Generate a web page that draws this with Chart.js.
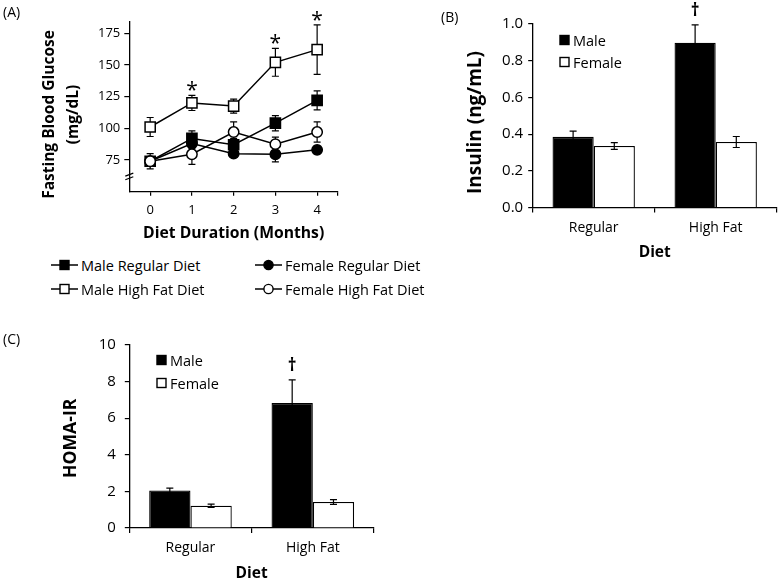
<!DOCTYPE html>
<html>
<head>
<meta charset="utf-8">
<script src="https://cdn.jsdelivr.net/npm/chart.js@4.4.0/dist/chart.umd.min.js"></script>
<style>
body { margin: 0; background: #fff; font-family: "Open Sans", sans-serif; color: #000; }
#wrap { position: relative; width: 782px; height: 583px; overflow: hidden; background: #fff; }
canvas { position: absolute; }
.tag { position: absolute; font-size: 14px; line-height: 1; }
.leg { position: absolute; display: flex; align-items: center; white-space: nowrap; height: 18px; }
.leg svg { margin-right: 3px; }
</style>
</head>
<body>
<div id="wrap">
  <canvas id="chartA" width="400" height="255" style="left:0;top:0;width:400px;height:255px"></canvas>
  <canvas id="chartB" width="382" height="265" style="left:400px;top:0;width:382px;height:265px"></canvas>
  <canvas id="chartC" width="400" height="283" style="left:0;top:300px;width:400px;height:283px"></canvas>
  <div class="tag" style="left:3px;top:5px">(A)</div>
  <div class="tag" style="left:441px;top:10px">(B)</div>
  <div class="tag" style="left:3px;top:332px">(C)</div>
  <div id="legA"></div>
  <div id="legB"></div>
  <div id="legC"></div>
</div>
<script>
// ---- panel A: fasting blood glucose (mg/dL) by month
const months = [0, 1, 2, 3, 4];
const maleRegular = [74, 92, 87, 104, 122];
const maleRegularErr = [3, 6, 5, 6, 7.5];
const maleHighFat = [101, 120, 117.5, 152, 162];
const maleHighFatErr = [7.5, 6, 5.5, 11, 19.5];
const femaleRegular = [74, 88, 80, 79.5, 83];
const femaleRegularErr = [3, 4, 3, 6, 3];
const femaleHighFat = [74, 79.5, 97, 87.5, 97];
const femaleHighFatErr = [6, 8, 8, 5.5, 8];
const starMonths = [1, 3, 4];
const glucoseTicks = [75, 100, 125, 150, 175];

// ---- panels B and C
const diets = ['Regular', 'High Fat'];
const insulinMale = [0.385, 0.898];
const insulinMaleErr = [0.031, 0.097];
const insulinFemale = [0.335, 0.357];
const insulinFemaleErr = [0.018, 0.03];
const homaMale = [2.05, 6.83];
const homaMaleErr = [0.13, 1.26];
const homaFemale = [1.22, 1.42];
const homaFemaleErr = [0.09, 0.13];
const daggerDiet = 'High Fat';

const FONT = '"Open Sans"';
Chart.defaults.font.family = FONT;
Chart.defaults.color = '#000';

const pts = arr => months.map((m, i) => ({x: m, y: arr[i]}));

// error bars, read from dataset.errors
const errorBars = {
    id: 'errorBars',
    beforeDatasetsDraw(chart, args, o) { if (o.behind) drawErrors(chart, o); },
    afterDatasetsDraw(chart, args, o) { if (!o.behind) drawErrors(chart, o); }
};
function drawErrors(chart, o) {
    const ctx = chart.ctx, ys = chart.scales.y;
    ctx.save();
    ctx.strokeStyle = '#000';
    ctx.lineWidth = o.width;
    chart.data.datasets.forEach((ds, i) => {
        chart.getDatasetMeta(i).data.forEach((el, j) => {
            const raw = ds.data[j];
            const v = typeof raw === 'object' ? raw.y : raw;
            const e = ds.errors[j];
            const t = ys.getPixelForValue(v + e), b = ys.getPixelForValue(v - e);
            ctx.beginPath();
            ctx.moveTo(el.x, t); ctx.lineTo(el.x, b);
            ctx.moveTo(el.x - o.cap, t); ctx.lineTo(el.x + o.cap, t);
            ctx.moveTo(el.x - o.cap, b); ctx.lineTo(el.x + o.cap, b);
            ctx.stroke();
        });
    });
    ctx.restore();
}

// significance marks (* and †) above the error bars
const marks = {
    id: 'marks',
    afterDatasetsDraw(chart, args, o) {
        const ctx = chart.ctx, ys = chart.scales.y;
        ctx.save();
        ctx.font = o.font;
        ctx.fillStyle = '#000';
        ctx.textAlign = 'center';
        ctx.textBaseline = 'alphabetic';
        o.items.forEach(it => {
            const ds = chart.data.datasets[it.ds];
            const raw = ds.data[it.index];
            const v = typeof raw === 'object' ? raw.y : raw;
            const el = chart.getDatasetMeta(it.ds).data[it.index];
            ctx.fillText(o.text, el.x, ys.getPixelForValue(v + ds.errors[it.index]) - o.gap);
        });
        ctx.restore();
    }
};

// rotated y title, placed by hand
const sideTitle = {
    id: 'sideTitle',
    afterDraw(chart, args, o) {
        const ctx = chart.ctx;
        ctx.save();
        ctx.font = 'bold ' + o.size + 'px ' + FONT;
        ctx.fillStyle = '#000';
        ctx.textAlign = 'center';
        ctx.textBaseline = 'middle';
        o.lines.forEach((t, i) => {
            ctx.save();
            ctx.translate(o.x[i], o.y);
            ctx.rotate(-Math.PI / 2);
            ctx.fillText(t, 0, 0);
            ctx.restore();
        });
        ctx.restore();
    }
};

// axis break on panel A
const axisBreak = {
    id: 'axisBreak',
    afterDraw(chart, args, o) {
        const ctx = chart.ctx;
        const x = chart.chartArea.left, y = chart.scales.y.getPixelForValue(o.at);
        ctx.save();
        ctx.strokeStyle = '#000';
        ctx.lineWidth = 1.2;
        ctx.beginPath();
        [-1.8, 1.8].forEach(d => {
            ctx.moveTo(x - 4, y + d + 1.5);
            ctx.lineTo(x + 4, y + d - 1.5);
        });
        ctx.stroke();
        ctx.restore();
    }
};

function lineSet(label, arr, err, shape, fill) {
    return {
        label: label,
        data: pts(arr),
        errors: err,
        borderColor: '#000',
        borderWidth: 1.5,
        pointStyle: shape,
        pointRadius: shape == 'rect' ? 7.2 : 5.2,
        pointBorderWidth: 1.5,
        pointBackgroundColor: fill,
        pointBorderColor: '#000',
        tension: 0
    };
}

new Chart(document.getElementById('chartA'), {
    type: 'line',
    data: {
        datasets: [
            lineSet('Male High Fat Diet', maleHighFat, maleHighFatErr, 'rect', '#fff'),
            lineSet('Female High Fat Diet', femaleHighFat, femaleHighFatErr, 'circle', '#fff'),
            lineSet('Male Regular Diet', maleRegular, maleRegularErr, 'rect', '#000'),
            lineSet('Female Regular Diet', femaleRegular, femaleRegularErr, 'circle', '#000')
        ]
    },
    options: {
        responsive: false,
        animation: false,
        events: [],
        layout: {padding: {top: 21.7, right: 62, left: 0, bottom: 0}, autoPadding: false},
        plugins: {
            legend: {display: false},
            tooltip: {enabled: false},
            errorBars: {behind: true, cap: 3.5, width: 1.2},
            marks: {text: '*', font: '21px ' + FONT, gap: -2, items: starMonths.map(m => ({ds: 0, index: months.indexOf(m)}))},
            sideTitle: {lines: ['Fasting Blood Glucose', '(mg/dL)'], x: [50, 74], y: 114.5, size: 15.5},
            axisBreak: {at: 62}
        },
        scales: {
            x: {
                type: 'linear',
                min: -0.5,
                max: 4.5,
                afterBuildTicks: s => { s.ticks = months.concat([4.5]).map(v => ({value: v})); },
                ticks: {padding: 7, font: {size: 13}, callback: v => (v > 4 ? '' : v)},
                grid: {drawOnChartArea: false, tickLength: 4, color: '#000', lineWidth: 1.2},
                border: {color: '#000', width: 1.3},
                title: {display: true, text: 'Diet Duration (Months)', font: {size: 15.7, weight: 'bold'}, padding: {top: 0, bottom: 12}},
                afterFit: s => { s.height = 63.3; }
            },
            y: {
                min: 50,
                max: 184,
                afterBuildTicks: s => { s.ticks = glucoseTicks.map(v => ({value: v})); },
                ticks: {padding: 4, font: {size: 13}},
                grid: {drawOnChartArea: false, tickLength: 5, color: '#000', lineWidth: 1.2},
                border: {color: '#000', width: 1.3},
                afterFit: s => { s.width = 129.3; }
            }
        }
    },
    plugins: [errorBars, marks, sideTitle, axisBreak]
});

function barChart(id, male, maleErr, female, femaleErr, o) {
    return new Chart(document.getElementById(id), {
        type: 'bar',
        data: {
            labels: diets,
            datasets: [
                {label: 'Male', data: male, errors: maleErr, backgroundColor: '#000', borderColor: '#000', borderWidth: 1.3},
                {label: 'Female', data: female, errors: femaleErr, backgroundColor: '#fff', borderColor: '#000', borderWidth: 1.3}
            ]
        },
        options: {
            responsive: false,
            animation: false,
            events: [],
            layout: {padding: o.padding, autoPadding: false},
            datasets: {bar: {categoryPercentage: 0.675, barPercentage: 1}},
            plugins: {
                legend: {display: false},
                tooltip: {enabled: false},
                errorBars: {behind: false, cap: 3.5, width: 1.2},
                marks: {text: '†', font: 'bold 17px ' + FONT, gap: 9, items: [{ds: 0, index: diets.indexOf(daggerDiet)}]},
                sideTitle: o.title
            },
            scales: {
                x: {
                    grid: {offset: true, drawOnChartArea: false, tickLength: 5, color: '#000', lineWidth: 1.2},
                    border: {color: '#000', width: 1.3},
                    ticks: {padding: 7, font: {size: 14}},
                    title: {display: true, text: 'Diet', font: {size: 15.5, weight: 'bold'}, padding: o.xTitlePad},
                    afterFit: s => { s.height = o.xHeight; }
                },
                y: {
                    min: 0,
                    max: o.max,
                    ticks: {stepSize: o.step, padding: o.tickPad, font: {size: 15}, callback: o.fmt},
                    grid: {drawOnChartArea: false, tickLength: 4.5, color: '#000', lineWidth: 1.2},
                    border: {color: '#000', width: 1.3},
                    afterFit: s => { s.width = o.yWidth; }
                }
            }
        },
        plugins: [errorBars, marks, sideTitle]
    });
}

barChart('chartB', insulinMale, insulinMaleErr, insulinFemale, insulinFemaleErr, {
    padding: {top: 24, right: 5.3, left: 0, bottom: 0},
    max: 1, step: 0.2, tickPad: 5, fmt: v => v.toFixed(1),
    yWidth: 132.7, xHeight: 57.5, xTitlePad: {top: 0, bottom: 3},
    title: {lines: ['Insulin (ng/mL)'], x: [76], y: 122.5, size: 19}
});

barChart('chartC', homaMale, homaMaleErr, homaFemale, homaFemaleErr, {
    padding: {top: 45, right: 26, left: 0, bottom: 0},
    max: 10, step: 2, tickPad: 9, fmt: v => v,
    yWidth: 129.3, xHeight: 55, xTitlePad: {top: 0, bottom: 0.5},
    title: {lines: ['HOMA-IR'], x: [71], y: 138.3, size: 17.6}
});

// ---- HTML legends
function icon(shape, fill, line) {
    const w = line ? 27 : 11;
    const c = w / 2;
    const mark = shape == 'rect'
        ? `<rect x="${c - 4.5}" y="2.5" width="9" height="9" fill="${fill}" stroke="#000" stroke-width="1.4"/>`
        : `<circle cx="${c}" cy="7" r="4.6" fill="${fill}" stroke="#000" stroke-width="1.4"/>`;
    const ln = line ? `<line x1="0" y1="7" x2="${w}" y2="7" stroke="#000" stroke-width="1.5"/>` : '';
    return `<svg width="${w}" height="14" viewBox="0 0 ${w} 14">${ln}${mark}</svg>`;
}
function legendItem(parent, left, top, label, shape, fill, line, size) {
    const d = document.createElement('div');
    d.className = 'leg';
    d.style.left = left + 'px';
    d.style.top = top + 'px';
    d.style.fontSize = size + 'px';
    d.innerHTML = icon(shape, fill, line) + '<span>' + label + '</span>';
    document.getElementById(parent).appendChild(d);
}
legendItem('legA', 51, 256, 'Male Regular Diet', 'rect', '#000', true, 14.5);
legendItem('legA', 255, 256, 'Female Regular Diet', 'circle', '#000', true, 14.5);
legendItem('legA', 51, 280, 'Male High Fat Diet', 'rect', '#fff', true, 14.5);
legendItem('legA', 255, 280, 'Female High Fat Diet', 'circle', '#fff', true, 14.5);
legendItem('legB', 559, 31, 'Male', 'rect', '#000', false, 14.5);
legendItem('legB', 559, 53, 'Female', 'rect', '#fff', false, 14.5);
legendItem('legC', 156, 351, 'Male', 'rect', '#000', false, 14.5);
legendItem('legC', 156, 374, 'Female', 'rect', '#fff', false, 14.5);
</script>
</body>
</html>
